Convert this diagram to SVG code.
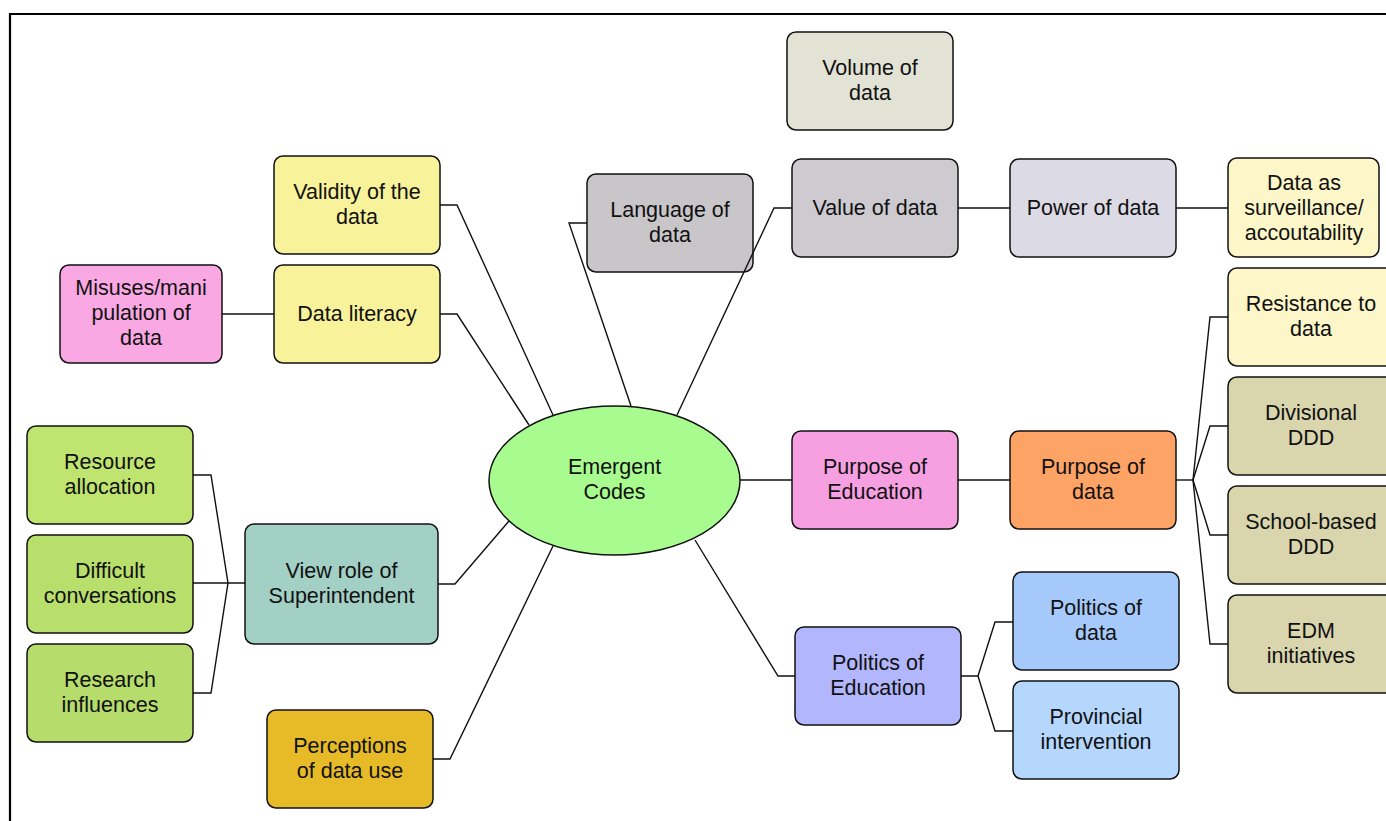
<svg xmlns="http://www.w3.org/2000/svg" width="1386" height="821" viewBox="0 0 1386 821">
  <style>
    .box { stroke: #111; stroke-width: 1.5; }
    .lbl { font-family: "Liberation Sans", Arial, Helvetica, sans-serif; font-size: 21.5px; fill: #111; text-anchor: middle; }
    .wire { fill: none; stroke: #111; stroke-width: 1.4; }
    .frame { fill: none; stroke: #000; stroke-width: 2.2; }
  </style>
  <rect width="1386" height="821" fill="#fff"/>
  <path class="frame" d="M10,821 V14 H1386"/>

  <g id="emergent-codes">
    <ellipse class="box" cx="614.5" cy="480.5" rx="125.5" ry="74.5" fill="#a8fc8f"/>
    <text class="lbl" x="614.5" y="474">Emergent</text>
    <text class="lbl" x="614.5" y="499">Codes</text>
  </g>

  <g id="volume-of-data">
    <rect class="box" x="787" y="32" width="166" height="98" rx="9" fill="#e3e3d5"/>
    <text class="lbl" x="870" y="75">Volume of</text>
    <text class="lbl" x="870" y="100">data</text>
  </g>

  <g id="validity-of-data">
    <rect class="box" x="274" y="156" width="166" height="98" rx="9" fill="#f8f29a"/>
    <text class="lbl" x="357" y="199">Validity of the</text>
    <text class="lbl" x="357" y="224">data</text>
  </g>

  <g id="data-literacy">
    <rect class="box" x="274" y="265" width="166" height="98" rx="9" fill="#f8f29a"/>
    <text class="lbl" x="357" y="321">Data literacy</text>
  </g>

  <g id="misuses">
    <rect class="box" x="60" y="265" width="162" height="98" rx="9" fill="#f9a8e3"/>
    <text class="lbl" x="141" y="295">Misuses/mani</text>
    <text class="lbl" x="141" y="320">pulation of</text>
    <text class="lbl" x="141" y="345">data</text>
  </g>

  <g id="language-of-data">
    <rect class="box" x="587" y="174" width="166" height="98" rx="9" fill="#c8c6c8"/>
    <text class="lbl" x="670" y="217">Language of</text>
    <text class="lbl" x="670" y="242">data</text>
  </g>

  <g id="value-of-data">
    <rect class="box" x="792" y="159" width="166" height="98" rx="9" fill="#cdcbd0"/>
    <text class="lbl" x="875" y="215">Value of data</text>
  </g>

  <g id="power-of-data">
    <rect class="box" x="1010" y="159" width="166" height="98" rx="9" fill="#dcdae4"/>
    <text class="lbl" x="1093" y="215">Power of data</text>
  </g>

  <g id="surveillance">
    <rect class="box" x="1228" y="158" width="151" height="99" rx="9" fill="#fdf6c8"/>
    <text class="lbl" x="1304" y="190">Data as</text>
    <text class="lbl" x="1304" y="215">surveillance/</text>
    <text class="lbl" x="1304" y="240">accoutability</text>
  </g>

  <g id="resistance">
    <rect class="box" x="1228" y="268" width="166" height="98" rx="9" fill="#fdf6c8"/>
    <text class="lbl" x="1311" y="311">Resistance to</text>
    <text class="lbl" x="1311" y="336">data</text>
  </g>

  <g id="divisional-ddd">
    <rect class="box" x="1228" y="377" width="166" height="98" rx="9" fill="#d9d5ad"/>
    <text class="lbl" x="1311" y="420">Divisional</text>
    <text class="lbl" x="1311" y="445">DDD</text>
  </g>

  <g id="school-ddd">
    <rect class="box" x="1228" y="486" width="166" height="98" rx="9" fill="#d9d5ad"/>
    <text class="lbl" x="1311" y="529">School-based</text>
    <text class="lbl" x="1311" y="554">DDD</text>
  </g>

  <g id="edm-initiatives">
    <rect class="box" x="1228" y="595" width="166" height="98" rx="9" fill="#d9d5ad"/>
    <text class="lbl" x="1311" y="638">EDM</text>
    <text class="lbl" x="1311" y="663">initiatives</text>
  </g>

  <g id="purpose-of-education">
    <rect class="box" x="792" y="431" width="166" height="98" rx="9" fill="#f6a0e2"/>
    <text class="lbl" x="875" y="474">Purpose of</text>
    <text class="lbl" x="875" y="499">Education</text>
  </g>

  <g id="purpose-of-data">
    <rect class="box" x="1010" y="431" width="166" height="98" rx="9" fill="#fea366"/>
    <text class="lbl" x="1093" y="474">Purpose of</text>
    <text class="lbl" x="1093" y="499">data</text>
  </g>

  <g id="resource-allocation">
    <rect class="box" x="27" y="426" width="166" height="98" rx="9" fill="#c0e470"/>
    <text class="lbl" x="110" y="469">Resource</text>
    <text class="lbl" x="110" y="494">allocation</text>
  </g>

  <g id="difficult-conversations">
    <rect class="box" x="27" y="535" width="166" height="98" rx="9" fill="#b8de6c"/>
    <text class="lbl" x="110" y="578">Difficult</text>
    <text class="lbl" x="110" y="603">conversations</text>
  </g>

  <g id="research-influences">
    <rect class="box" x="27" y="644" width="166" height="98" rx="9" fill="#b6dc6c"/>
    <text class="lbl" x="110" y="687">Research</text>
    <text class="lbl" x="110" y="712">influences</text>
  </g>

  <g id="superintendent-role">
    <rect class="box" x="245" y="524" width="193" height="120" rx="9" fill="#a2d0c5"/>
    <text class="lbl" x="341.5" y="578">View role of</text>
    <text class="lbl" x="341.5" y="603">Superintendent</text>
  </g>

  <g id="perceptions">
    <rect class="box" x="267" y="710" width="166" height="98" rx="9" fill="#e6bb27"/>
    <text class="lbl" x="350" y="753">Perceptions</text>
    <text class="lbl" x="350" y="778">of data use</text>
  </g>

  <g id="politics-of-education">
    <rect class="box" x="795" y="627" width="166" height="98" rx="9" fill="#b2b6fc"/>
    <text class="lbl" x="878" y="670">Politics of</text>
    <text class="lbl" x="878" y="695">Education</text>
  </g>

  <g id="politics-of-data">
    <rect class="box" x="1013" y="572" width="166" height="98" rx="9" fill="#a6c9fc"/>
    <text class="lbl" x="1096" y="615">Politics of</text>
    <text class="lbl" x="1096" y="640">data</text>
  </g>

  <g id="provincial-intervention">
    <rect class="box" x="1013" y="681" width="166" height="98" rx="9" fill="#b5d7fd"/>
    <text class="lbl" x="1096" y="724">Provincial</text>
    <text class="lbl" x="1096" y="749">intervention</text>
  </g>

  <!-- connectors are drawn last so they sit over the boxes they cross -->
  <g id="connectors">
    <!-- left branches -->
    <path class="wire" d="M440,205 H457 L553,415"/>
    <path class="wire" d="M440,314 H457 L529,425"/>
    <path class="wire" d="M222,314 H274"/>
    <path class="wire" d="M438,584 H455 L509,521"/>
    <path class="wire" d="M193,475 H211 L228,583 L211,693 H193"/>
    <path class="wire" d="M193,583 H245"/>
    <path class="wire" d="M433,759 H450 L553,546"/>
    <!-- upper branches -->
    <path class="wire" d="M587,223 H569 L631,406"/>
    <path class="wire" d="M792,208 H774 L677,415"/>
    <path class="wire" d="M958,208 H1010"/>
    <path class="wire" d="M1176,208 H1228"/>
    <!-- right branches -->
    <path class="wire" d="M740,480 H792"/>
    <path class="wire" d="M958,480 H1010"/>
    <path class="wire" d="M1176,480 H1193"/>
    <path class="wire" d="M1193,480 L1210,317 H1228"/>
    <path class="wire" d="M1193,480 L1210,426 H1228"/>
    <path class="wire" d="M1193,480 L1210,535 H1228"/>
    <path class="wire" d="M1193,480 L1210,644 H1228"/>
    <!-- lower branches -->
    <path class="wire" d="M695,540 L778,676 H795"/>
    <path class="wire" d="M961,676 H978 L995,622 H1013"/>
    <path class="wire" d="M978,676 L995,731 H1013"/>
  </g>
</svg>
